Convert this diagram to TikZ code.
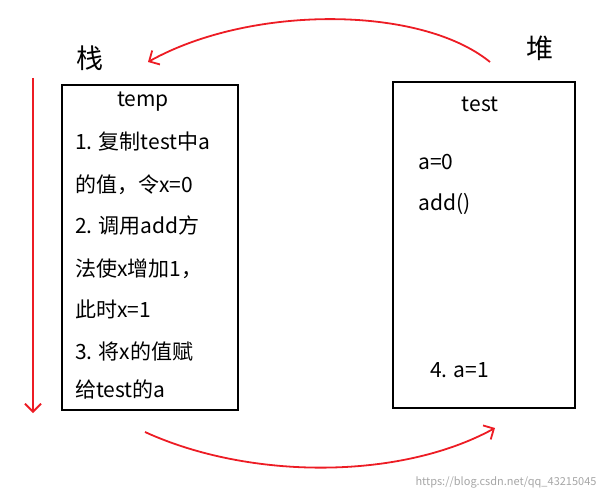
\documentclass[tikz,border=0pt]{standalone}
\usepackage{fontspec}
\setmainfont{Noto Sans CJK SC}
\usetikzlibrary{arrows.meta}
\definecolor{rd}{RGB}{237,28,36}
\begin{document}
\begin{tikzpicture}[x=1pt,y=-1pt,
  box/.style={draw,line width=2pt},
  txt/.style={anchor=west,font=\fontsize{21}{22}\selectfont,inner sep=0pt},
  arr/.style={rd,line width=1.8pt,-{Straight Barb[length=8pt,width=16pt]}}]
\useasboundingbox (0,0) rectangle (607,500);
\node[box,minimum width=176pt,minimum height=325pt,inner sep=0pt] (L) at (150,247.5) {};
\node[box,minimum width=182pt,minimum height=326pt,inner sep=0pt] (R) at (484,245) {};
\node[font=\fontsize{27}{28}\selectfont] (zhan) at (90,58) {栈};
\node[font=\fontsize{27}{28}\selectfont] (dui) at (540,48) {堆};
\node[txt,anchor=center] (t0) at (143,102) {temp};
\node[txt] (t1) at (75,142) {1. 复制test中a};
\node[txt] (t2) at (75,185) {的值，令x=0};
\node[txt] (t3) at (75,226) {2. 调用add方};
\node[txt] (t4) at (75,269) {法使x增加1，};
\node[txt] (t5) at (75,309) {此时x=1};
\node[txt] (t6) at (75,351) {3. 将x的值赋};
\node[txt] (t7) at (75,390) {给test的a};
\node[txt,anchor=center] (r0) at (480,104) {test};
\node[txt] (r1) at (418,162) {a=0};
\node[txt] (r2) at (418,204) {add()};
\node[txt] (r3) at (430,370) {4. a=1};
\node[text=gray!70,font=\fontsize{11}{12}\selectfont,anchor=east] (wm) at (600,482) {https://blog.csdn.net/qq\_43215045};
\coordinate (a1) at (490,62); \coordinate (a2) at (148,62);
\coordinate (b1) at (145,432); \coordinate (b2) at (495,428);
\coordinate (c1) at (33,78); \coordinate (c2) at (33,413);
\draw[arr] (a1) .. controls (420,5) and (250,5) .. (a2);
\draw[arr] (b1) .. controls (250,480) and (400,480) .. (b2);
\draw[arr] (c1) -- (c2);
\end{tikzpicture}
\end{document}
